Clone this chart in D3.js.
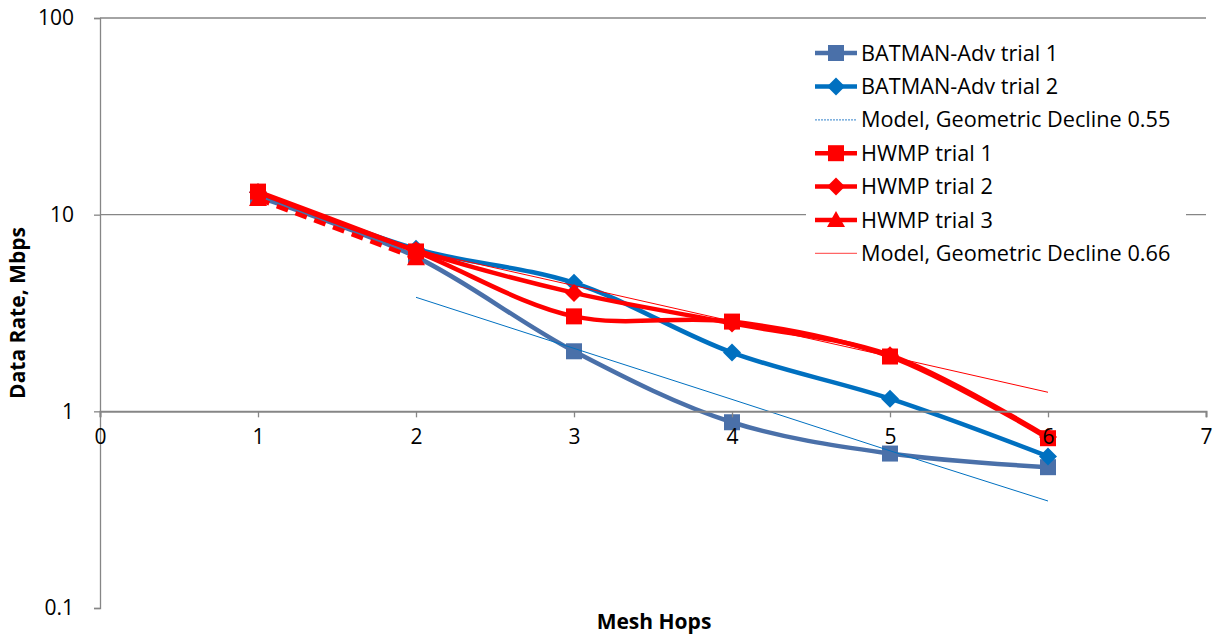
<!DOCTYPE html>
<html>
<head>
<meta charset="utf-8">
<script src="https://cdn.jsdelivr.net/npm/d3@7"></script>
<style>
  body { margin: 0; background: #fff; }
  svg text { font-family: "Open Sans", sans-serif; fill: #000; }
</style>
</head>
<body>
<div id="chart"></div>
<script>
// mesh hop counts
var hops = [1, 2, 3, 4, 5, 6];
var modelHops = [2, 3, 4, 5, 6];

// data rate, Mbps
var batman1 = [12.3, 6.1, 2.02, 0.88, 0.61, 0.52];
var batman2 = [13.0, 6.7, 4.5, 1.99, 1.16, 0.59];
var model55 = [3.8, 2.09, 1.15, 0.63, 0.35];
var hwmp1 = [13.1, 6.5, 3.04, 2.86, 1.9, 0.73];
var hwmp2 = [13.0, 6.6, 4.0, 2.8, 1.93, 0.74];
var hwmp3 = [12.0, 6.0];
var model66 = [6.6, 4.36, 2.87, 1.9, 1.25];

var xTicks = [0, 1, 2, 3, 4, 5, 6, 7];
var yTicks = [0.1, 1, 10, 100];

var series = [
    {name: "BATMAN-Adv trial 1", x: hops, y: batman1, color: "#4A70A9", width: 4.5, marker: "square"},
    {name: "BATMAN-Adv trial 2", x: hops, y: batman2, color: "#0070C0", width: 4.5, marker: "diamond"},
    {name: "Model, Geometric Decline 0.55", x: modelHops, y: model55, color: "#0070C0", width: 1, marker: null},
    {name: "HWMP trial 1", x: hops, y: hwmp1, color: "#FF0000", width: 4.5, marker: "square"},
    {name: "HWMP trial 2", x: hops, y: hwmp2, color: "#FF0000", width: 4.5, marker: "diamond"},
    {name: "HWMP trial 3", x: hops.slice(0, 2), y: hwmp3, color: "#FF0000", width: 4.5, marker: "triangle", dash: "12,8"},
    {name: "Model, Geometric Decline 0.66", x: modelHops, y: model66, color: "#FF0000", width: 1, marker: null}
];

var width = 1214, height = 637;
var margin = {left: 100, right: 8, top: 18, bottom: 29};

var svg = d3.select("#chart").append("svg")
    .attr("width", width).attr("height", height);

var x = d3.scaleLinear().domain([0, 7]).range([margin.left, width - margin.right]);
var y = d3.scaleLog().domain([0.1, 100]).range([height - margin.bottom, margin.top]);

var gridColor = "#868686";

// horizontal gridlines
svg.append("g").selectAll("line")
    .data([10, 100])
    .enter().append("line")
    .attr("x1", x(0)).attr("x2", x(7))
    .attr("y1", function(d) { return y(d); })
    .attr("y2", function(d) { return y(d); })
    .attr("stroke", gridColor).attr("stroke-width", 1.3);

// y axis
var yAxis = svg.append("g")
    .attr("transform", "translate(" + x(0) + ",0)")
    .call(d3.axisLeft(y).tickValues(yTicks).tickFormat(d3.format("~g")).tickSize(6).tickPadding(20));
yAxis.select(".domain").attr("stroke", gridColor).attr("stroke-width", 1.3);
yAxis.selectAll(".tick line").attr("stroke", gridColor).attr("stroke-width", 1.3);
yAxis.selectAll("text").attr("font-size", 21).attr("font-family", "Open Sans");

// x axis crosses at 1
var xAxis = svg.append("g")
    .attr("transform", "translate(0," + y(1) + ")")
    .call(d3.axisBottom(x).tickValues(xTicks).tickFormat(d3.format("d")).tickSize(6).tickPadding(12));
xAxis.select(".domain").attr("stroke", gridColor).attr("stroke-width", 2);
xAxis.selectAll(".tick line").attr("stroke", gridColor).attr("stroke-width", 1.3);
xAxis.selectAll("text").attr("font-size", 21).attr("font-family", "Open Sans");

// axis titles
svg.append("text")
    .attr("x", 654).attr("y", 629)
    .attr("text-anchor", "middle")
    .attr("font-weight", "bold").attr("font-size", 21)
    .text("Mesh Hops");

svg.append("text")
    .attr("transform", "translate(25,313) rotate(-90)")
    .attr("text-anchor", "middle")
    .attr("font-weight", "bold").attr("font-size", 21)
    .text("Data Rate, Mbps");

var line = d3.line().curve(d3.curveCatmullRom.alpha(0.5));

function drawMarker(g, type, cx, cy, color) {
    if (type === "square") {
        g.append("rect").attr("x", cx - 8).attr("y", cy - 8)
            .attr("width", 16).attr("height", 16).attr("fill", color);
    } else if (type === "diamond") {
        var s = 9;
        g.append("path")
            .attr("d", "M" + cx + "," + (cy - s) + "L" + (cx + s) + "," + cy + "L" + cx + "," + (cy + s) + "L" + (cx - s) + "," + cy + "Z")
            .attr("fill", color);
    } else if (type === "triangle") {
        g.append("path")
            .attr("d", "M" + cx + "," + (cy - 9) + "L" + (cx + 9) + "," + (cy + 7) + "L" + (cx - 9) + "," + (cy + 7) + "Z")
            .attr("fill", color);
    }
}

var plot = svg.append("g");

series.forEach(function(s) {
    var pts = s.x.map(function(h, i) { return [x(h), y(s.y[i])]; });
    var curve = s.width > 2 ? line : d3.line();
    plot.append("path")
        .attr("d", curve(pts))
        .attr("fill", "none")
        .attr("stroke", s.color)
        .attr("stroke-width", s.width)
        .attr("stroke-dasharray", s.dash || null)
        .attr("stroke-linejoin", "round");
    if (s.marker) {
        pts.forEach(function(p) { drawMarker(plot, s.marker, p[0], p[1], s.color); });
    }
});

// tick labels sit above the data, like the original
xAxis.raise();

// legend
var legend = svg.append("g");
legend.append("rect")
    .attr("x", 806).attr("y", 33).attr("width", 380).attr("height", 240)
    .attr("fill", "#fff");

series.forEach(function(s, i) {
    var ly = 53 + i * 33.4;
    var g = legend.append("g");
    g.append("line")
        .attr("x1", 815).attr("x2", 857)
        .attr("y1", ly).attr("y2", ly)
        .attr("stroke", s.width > 2 ? s.color : (s.color === "#FF0000" ? "#FF6666" : "#5B9BD5"))
        .attr("stroke-width", s.width > 2 ? 4.5 : 1.3)
        .attr("stroke-dasharray", s.width > 2 ? null : (s.color === "#FF0000" ? null : "2,1"));
    if (s.marker) drawMarker(g, s.marker, 836, ly, s.color);
    g.append("text")
        .attr("x", 861).attr("y", ly)
        .attr("dy", "0.35em")
        .attr("font-size", 21.7)
        .text(s.name);
});
</script>
</body>
</html>
